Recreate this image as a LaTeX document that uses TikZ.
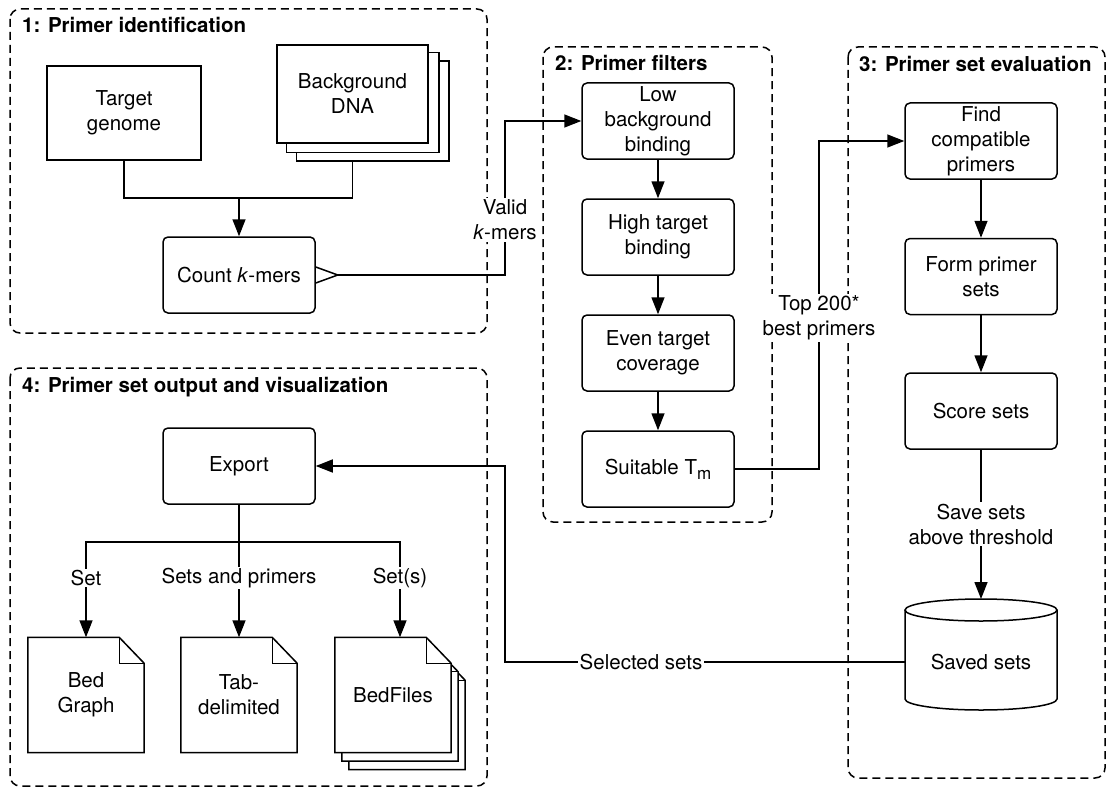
\documentclass[tikz,border=0pt]{standalone}
\usepackage{fontspec}
\setmainfont{TeX Gyre Heros}
\usetikzlibrary{arrows.meta,positioning,backgrounds}

% folded document sheet round a node, moved by (#2,#3)
\newcommand{\docsheet}[3]{%
  \draw[conn,fill=white] ([shift={(#2,#3)}]#1.north west)
    -- ([shift={(#2-25pt,#3)}]#1.north east)
    -- ([shift={(#2,#3-26pt)}]#1.north east)
    -- ([shift={(#2,#3)}]#1.south east)
    -- ([shift={(#2,#3)}]#1.south west) -- cycle;
  \draw[line width=1pt] ([shift={(#2-25pt,#3)}]#1.north east)
    |- ([shift={(#2,#3-26pt)}]#1.north east);}

\begin{document}
\begin{tikzpicture}[x=1pt,y=-1pt,
    font=\fontsize{20.5}{25}\selectfont,
    conn/.style={line width=1.5pt},
    flow/.style={conn,-{Triangle[length=17pt,width=13pt]}},
    box/.style={draw,line width=1.5pt,fill=white,rounded corners=5pt,
        minimum width=152pt,minimum height=76pt,align=center,inner sep=1pt},
    sheet/.style={draw,line width=1.5pt,fill=white,align=center},
    docnode/.style={minimum width=116pt,minimum height=115pt,align=center},
    lbl/.style={fill=white,align=center,inner sep=1.5pt},
    group/.style={draw,line width=1.5pt,dash pattern=on 8pt off 5pt,
        rounded corners=10pt},
    grouptitle/.style={anchor=base west,inner sep=0pt,
        font=\fontsize{20.5}{25}\selectfont\bfseries},
    node distance=38.5pt]

    \useasboundingbox (0,0) rectangle (1110,789);

    % the four stages
    \draw[group] (10,9) rectangle (487,333);
    \draw[group] (543,47) rectangle (772,522);
    \draw[group] (848,47) rectangle (1105,778);
    \draw[group] (10,368) rectangle (487,786);
    \node[grouptitle] (t1) at (22,33) {1: Primer identification};
    \node[grouptitle] (t2) at (555,71) {2: Primer filters};
    \node[grouptitle] (t3) at (859,72) {3: Primer set evaluation};
    \node[grouptitle] (t4) at (22,392) {4: Primer set output and visualization};

    % 1
    \node[sheet,minimum width=154pt,minimum height=94pt] (tg) at (124,113) {Target\\genome};
    \node[sheet,minimum width=151pt,minimum height=98pt] (bg) at (352.5,94) {Background\\DNA};
    \node[box] (cnt) at (239,275) {Count \textit{k}-mers};

    % 2
    \node[box] (low) at (658,121) {Low\\background\\binding};
    \node[box,below=of low] (high) {High target\\binding};
    \node[box,below=of high] (even) {Even target\\coverage};
    \node[box,below=of even] (tm) {Suitable T\raisebox{-5pt}{\fontsize{17}{17}\selectfont m}};

    % 3
    \node[box] (find) at (981,141) {Find\\compatible\\primers};
    \node[box,below=58pt of find] (form) {Form primer\\sets};
    \node[box,below=57pt of form] (score) {Score sets};
    \node[minimum width=152pt] (saved) at (981,662) {Saved sets};
    \coordinate (savtop) at (981,599);

    % 4
    \node[box] (exp) at (239,466) {Export};
    \node[docnode] (bedg) at (86,695) {Bed\\Graph};
    \node[docnode] (tabd) at (239,695) {Tab-\\delimited};
    \node[docnode] (bedf) at (393,695) {BedFiles};

    \begin{scope}[on background layer]
        \foreach \k in {2,1}
            \draw[conn,fill=white] ([shift={(\k*10pt,-\k*8.5pt)}]bg.north west)
                rectangle ([shift={(\k*10pt,-\k*8.5pt)}]bg.south east);
        \docsheet{bedf}{14pt}{-17pt}
        \docsheet{bedf}{7pt}{-8.5pt}
        \docsheet{bedf}{0pt}{0pt}
        \docsheet{bedg}{0pt}{0pt}
        \docsheet{tabd}{0pt}{0pt}
    \end{scope}

    % database
    \draw[conn] (905,610) -- (905,699)
        arc[start angle=180,end angle=360,x radius=76pt,y radius=11pt] -- (1057,610);
    \draw[conn] (981,610) ellipse[x radius=76pt,y radius=11pt];

    % connectors
    \coordinate (join) at (239,198);
    \draw[conn] (tg.south) |- (join) -| ([yshift=-17pt]bg.south);
    \draw[flow] (join) -- (cnt);

    \draw[conn] ([yshift=8pt]cnt.east) -- ([xshift=22pt]cnt.east) -- ([yshift=-8pt]cnt.east);
    \coordinate (vk) at (505,220);
    \draw[flow] ([xshift=22pt]cnt.east) -| (vk) |- (low);

    \draw[flow] (low) -- (high);
    \draw[flow] (high) -- (even);
    \draw[flow] (even) -- (tm);

    \coordinate (tp) at (819,318);
    \draw[flow] (tm) -| (tp) |- (find);

    \draw[flow] (find) -- (form);
    \draw[flow] (form) -- (score);
    \draw[flow] (score) -- (savtop);

    \coordinate (bend) at (505,560);
    \draw[flow] (saved.west) -| (bend) |- (exp);

    \coordinate (bus) at (239,542);
    \draw[conn] (exp) -- (bus);
    \draw[flow] (bus) -| (bedg.north);
    \draw[flow] (bus) -- (tabd.north);
    \draw[flow] (bus) -| ([xshift=7pt]bedf.north);

    % labels on the connectors
    \node[lbl] (vklbl) at (vk) {Valid\\\textit{k}-mers};
    \node[lbl] (tplbl) at (tp) {Top 200*\\best primers};
    \node[lbl] (thr) at (981,524) {Save sets\\above threshold};
    \node[lbl] (sellbl) at (641,662) {Selected sets};
    \node[lbl] (l1) at (86,578) {Set};
    \node[lbl] (l2) at (239,578) {Sets and primers};
    \node[lbl] (l3) at (400,578) {Set(s)};

\end{tikzpicture}
\end{document}
